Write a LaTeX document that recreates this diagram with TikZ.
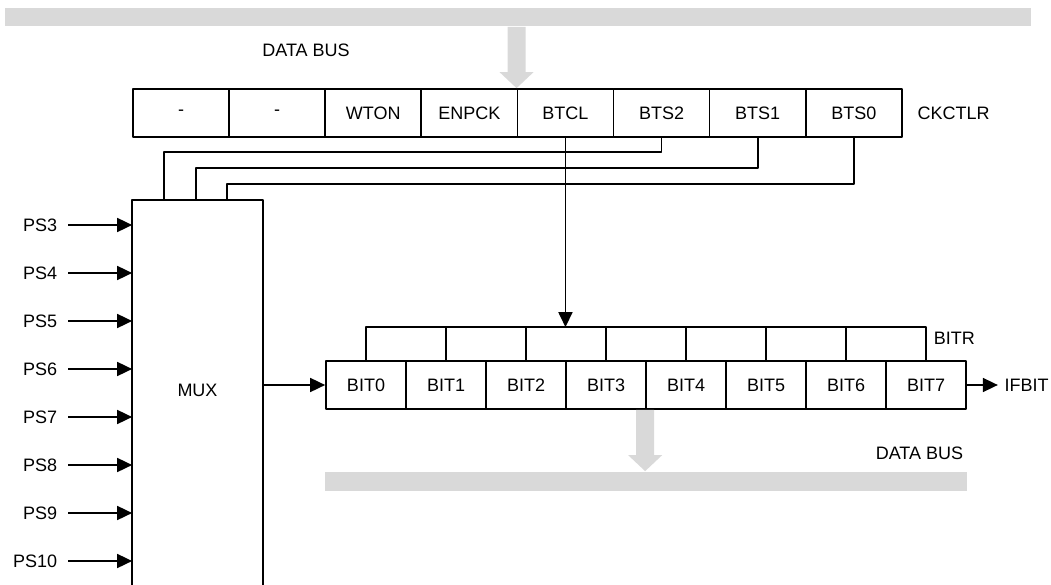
\documentclass[tikz,border=0pt]{standalone}
\usepackage{fontspec}
\setmainfont{Liberation Sans}
\usetikzlibrary{arrows.meta}
\begin{document}
\begin{tikzpicture}[x=1pt, y=-1pt, line join=round, line width=1.7pt, >={Triangle[length=15pt,width=14pt]}, font=\fontsize{18}{20}\selectfont]
	\tikzset{cell/.style={draw, inner sep=0pt, minimum height=48pt},
		ckcell/.style={cell, minimum width=96.1pt},
		bitcell/.style={cell, minimum width=80pt},
		busbar/.style={fill=black!15, inner sep=0pt},
		lbl/.style={inner sep=0pt}}
	\useasboundingbox (0,0) rectangle (1051,585);
	\clip (0,0) rectangle (1051,585);
	\node[busbar, minimum width=1026pt, minimum height=18pt] (topbus) at (518,17) {};
	\node[busbar, minimum width=642pt, minimum height=19pt] (lowbus) at (646,481.5) {};
	\node[lbl] (busl1) at (306,50) {DATA BUS};
	\node[lbl, anchor=east] (busl2) at (964,453) {DATA BUS};
	\foreach \t [count=\i from 0] in {-,-,WTON,ENPCK,BTCL,BTS2,BTS1,BTS0}
		\node[ckcell] (c\i) at (181.05+96.1*\i,113) {\t};
	\node[lbl, anchor=west] (ckctlr) at ([xshift=14pt]c7.east) {CKCTLR};
	\foreach \i in {0,...,7}
		\node[bitcell] (b\i) at (366+80*\i,385) {BIT\i};
	\draw (b0.north) -- ++(0,-33) coordinate (r0) -| (b7.north);
	\foreach \i in {1,...,6}
		\draw (b\i.north) -- ++(0,-33);
	\node[lbl, anchor=west] (bitr) at (933,338) {BITR};
	\draw[->] (c4.south) -- (c4.south |- r0);
	\node[lbl, minimum width=129pt, minimum height=378pt] (mux) at (197.5,390) {MUX};
	\draw (mux.south west |- 0,600) -- (mux.north west) -- (mux.north east) -- (mux.south east |- 0,600);
	\foreach \c/\y/\dx in {5/152/32,6/168/64,7/184/95}
		\draw (c\c.south) -- (c\c.south |- 0,\y) -| ([xshift=\dx pt]mux.north west);
	\foreach \n [count=\i from 0] in {3,...,10} {
		\node[lbl, anchor=east] (ps\n) at (58,225+48*\i) {PS\n};
		\draw[->, shorten <=10pt] (ps\n.east) -- (ps\n.east -| mux.west);
	}
	\draw[->] (mux.east |- b0.west) -- (b0.west);
	\node[lbl, anchor=west] (ifbit) at ([xshift=37pt]b7.east) {IFBIT};
	\draw[->, shorten >=6pt] (b7.east) -- (ifbit.west);
	\coordinate (t1) at (c4.north west);
	\coordinate (s1) at (c4.north west |- topbus.south);
	\coordinate (t2) at (b4.south west |- lowbus.north);
	\coordinate (s2) at (b4.south west);
	\foreach \k in {1,2}
		\fill[black!15] ([xshift=-9pt]s\k) -- ([xshift=-9pt,yshift=16pt]t\k) -- ++(-8,0) -- (t\k) -- ++(17,-16) -- ++(-8,0) -- ([xshift=9pt]s\k) -- cycle;
\end{tikzpicture}
\end{document}
